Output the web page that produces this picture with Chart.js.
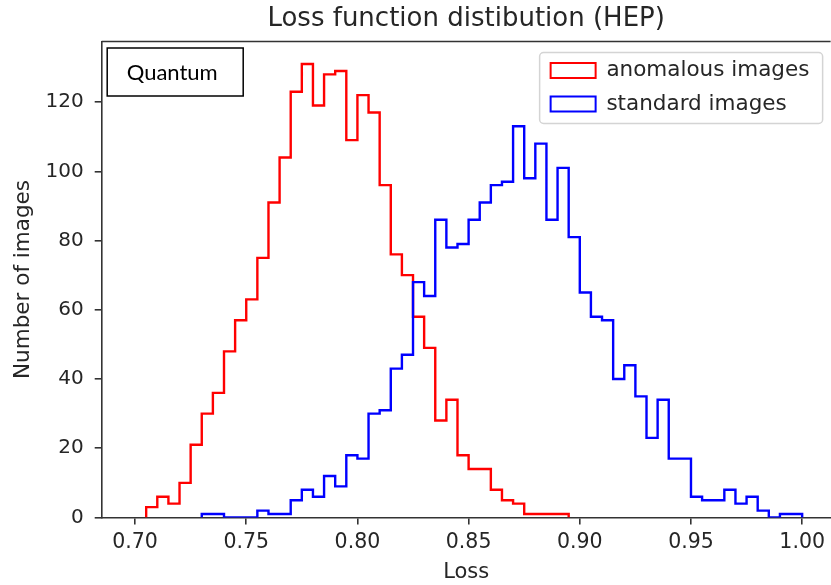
<!DOCTYPE html>
<html>
<head>
<meta charset="utf-8">
<script src="https://cdn.jsdelivr.net/npm/chart.js@4.4.1/dist/chart.umd.min.js"></script>
<style>
  html, body { margin: 0; padding: 0; background: #ffffff; overflow: hidden; }
  #wrap { position: relative; width: 831px; height: 585px; }
</style>
</head>
<body>
<div id="wrap"><canvas id="c" width="831" height="585"></canvas></div>
<script>
// ---- data ----
const binWidth = 0.005;
const anomalousStart = 0.705;
const anomalousCounts = [3, 6, 4, 10, 21, 30, 36, 48, 57, 63, 75, 91, 104, 123, 131, 119, 128, 129, 109, 122,
  117, 96, 76, 70, 58, 49, 28, 34, 18, 14, 14, 8, 5, 4, 1, 1, 1, 1];
const standardStart = 0.730;
const standardCounts = [1, 1, 0, 0, 0, 2, 1, 1, 5, 8, 6, 12, 9, 18, 17, 30, 31, 43, 47, 68,
  64, 86, 78, 79, 86, 91, 96, 97, 113, 98, 108, 86, 101, 81, 65, 58, 57, 40, 44, 35,
  23, 34, 17, 17, 6, 5, 5, 8, 4, 6, 2, 0, 1, 1];
const seriesLabels = ['anomalous images', 'standard images'];
const xTickValues = [0.70, 0.75, 0.80, 0.85, 0.90, 0.95, 1.00];
const yTickValues = [0, 20, 40, 60, 80, 100, 120];
const titleText = 'Loss function distibution (HEP)';
const xLabel = 'Loss';
const yLabel = 'Number of images';
const boxLabel = 'Quantum';

// ---- build step outlines from bin counts ----
function stepOutline(start, counts) {
  const pts = [{ x: start, y: 0 }];
  counts.forEach((c, i) => pts.push({ x: start + i * binWidth, y: c }));
  const end = start + counts.length * binWidth;
  pts.push({ x: end, y: counts[counts.length - 1] });
  pts.push({ x: end, y: 0 });
  return pts;
}

const TXT = '#262626';
const AX = '#333333';
const FONT = "'DejaVu Sans', sans-serif";

const framePlugin = {
  id: 'frameAndBox',
  afterLayout(chart) {
    const lg = chart.legend;
    const ca = chart.chartArea;
    if (lg) {
      const w = lg.width, h = lg.height;
      lg.left = ca.right - 292;
      lg.right = lg.left + w;
      lg.top = ca.top + 6.3;
      lg.bottom = lg.top + h;
    }
  },
  beforeDraw(chart) {
    const ctx = chart.ctx;
    const ca = chart.chartArea;
    const lg = chart.legend;
    // legend frame
    const fx = lg.left + 1, fy = ca.top + 11, fw = 283, fh = 71, r = 4;
    ctx.save();
    ctx.beginPath();
    ctx.moveTo(fx + r, fy);
    ctx.arcTo(fx + fw, fy, fx + fw, fy + fh, r);
    ctx.arcTo(fx + fw, fy + fh, fx, fy + fh, r);
    ctx.arcTo(fx, fy + fh, fx, fy, r);
    ctx.arcTo(fx, fy, fx + fw, fy, r);
    ctx.closePath();
    ctx.fillStyle = 'rgba(255,255,255,0.8)';
    ctx.fill();
    ctx.lineWidth = 1.5;
    ctx.strokeStyle = '#d4d4d4';
    ctx.stroke();
    ctx.restore();
  },
  afterDraw(chart) {
    const ctx = chart.ctx;
    const ca = chart.chartArea;
    ctx.save();
    // top spine
    ctx.strokeStyle = AX;
    ctx.lineWidth = 1.6;
    ctx.beginPath();
    ctx.moveTo(ca.left, ca.top);
    ctx.lineTo(ca.right, ca.top);
    ctx.stroke();
    // "Quantum" annotation box
    const bx = ca.left + 5.5, by = ca.top + 6.5, bw = 136, bh = 48;
    ctx.fillStyle = '#ffffff';
    ctx.fillRect(bx, by, bw, bh);
    ctx.strokeStyle = '#000000';
    ctx.lineWidth = 1.5;
    ctx.strokeRect(bx, by, bw, bh);
    ctx.fillStyle = '#000000';
    ctx.font = "22px Lato, 'Open Sans', sans-serif";
    ctx.textAlign = 'center';
    ctx.textBaseline = 'middle';
    ctx.fillText(boxLabel, bx + bw / 2 - 3, by + bh / 2 + 1);
    ctx.restore();
  }
};

new Chart(document.getElementById('c'), {
  type: 'line',
  data: {
    datasets: [
      {
        label: seriesLabels[0],
        data: stepOutline(anomalousStart, anomalousCounts),
        borderColor: '#ff0000',
        backgroundColor: 'rgba(0,0,0,0)',
        borderWidth: 2.4,
        stepped: true,
        pointRadius: 0,
        fill: false,
        order: 1
      },
      {
        label: seriesLabels[1],
        data: stepOutline(standardStart, standardCounts),
        borderColor: '#0000ff',
        backgroundColor: 'rgba(0,0,0,0)',
        borderWidth: 2.4,
        stepped: true,
        pointRadius: 0,
        fill: false,
        order: 0
      }
    ]
  },
  options: {
    responsive: false,
    animation: false,
    devicePixelRatio: 1,
    parsing: false,
    layout: { padding: { left: 0, right: 0, top: 0, bottom: 0 } },
    scales: {
      x: {
        type: 'linear',
        position: 'bottom',
        min: 0.685,
        max: 1.0128,
        z: 1,
        afterBuildTicks: s => { s.ticks = xTickValues.map(v => ({ value: v })); },
        afterFit: s => { s.height = 67.5; },
        ticks: {
          callback: v => Number(v).toFixed(2),
          font: { family: FONT, size: 20.5 },
          color: TXT,
          padding: 6,
          maxRotation: 0,
          autoSkip: false
        },
        grid: { drawOnChartArea: false, drawTicks: true, tickLength: 7, color: AX, lineWidth: 1.6 },
        border: { display: true, color: AX, width: 1.6 },
        title: { display: true, text: xLabel, font: { family: FONT, size: 21 }, color: TXT, padding: { top: 0, bottom: 0 } }
      },
      y: {
        type: 'linear',
        position: 'left',
        min: 0,
        max: 137.5,
        z: 1,
        afterBuildTicks: s => { s.ticks = yTickValues.map(v => ({ value: v })); },
        afterFit: s => { s.width = 101.7; },
        ticks: {
          callback: v => String(v),
          font: { family: FONT, size: 20 },
          color: TXT,
          padding: 11
        },
        grid: { drawOnChartArea: false, drawTicks: true, tickLength: 7, color: AX, lineWidth: 1.6 },
        border: { display: true, color: AX, width: 1.6 },
        title: { display: true, text: yLabel, font: { family: FONT, size: 21.5 }, color: TXT, padding: { top: 11, bottom: 0 } }
      }
    },
    plugins: {
      title: {
        display: true,
        text: titleText,
        fullSize: false,
        font: { family: FONT, size: 26, weight: 'normal' },
        color: TXT,
        padding: { top: 4, bottom: 6.3 }
      },
      legend: {
        display: true,
        position: 'chartArea',
        align: 'start',
        labels: {
          boxWidth: 45,
          boxHeight: 15,
          padding: 12,
          color: TXT,
          font: { family: FONT, size: 21.5 },
          sort: (a, b) => a.datasetIndex - b.datasetIndex,
          generateLabels: chart => Chart.defaults.plugins.legend.labels.generateLabels(chart)
            .map(l => Object.assign(l, { lineWidth: 2, fillStyle: 'rgba(0,0,0,0)' }))
        }
      },
      tooltip: { enabled: false }
    }
  },
  plugins: [framePlugin]
});
</script>
</body>
</html>
